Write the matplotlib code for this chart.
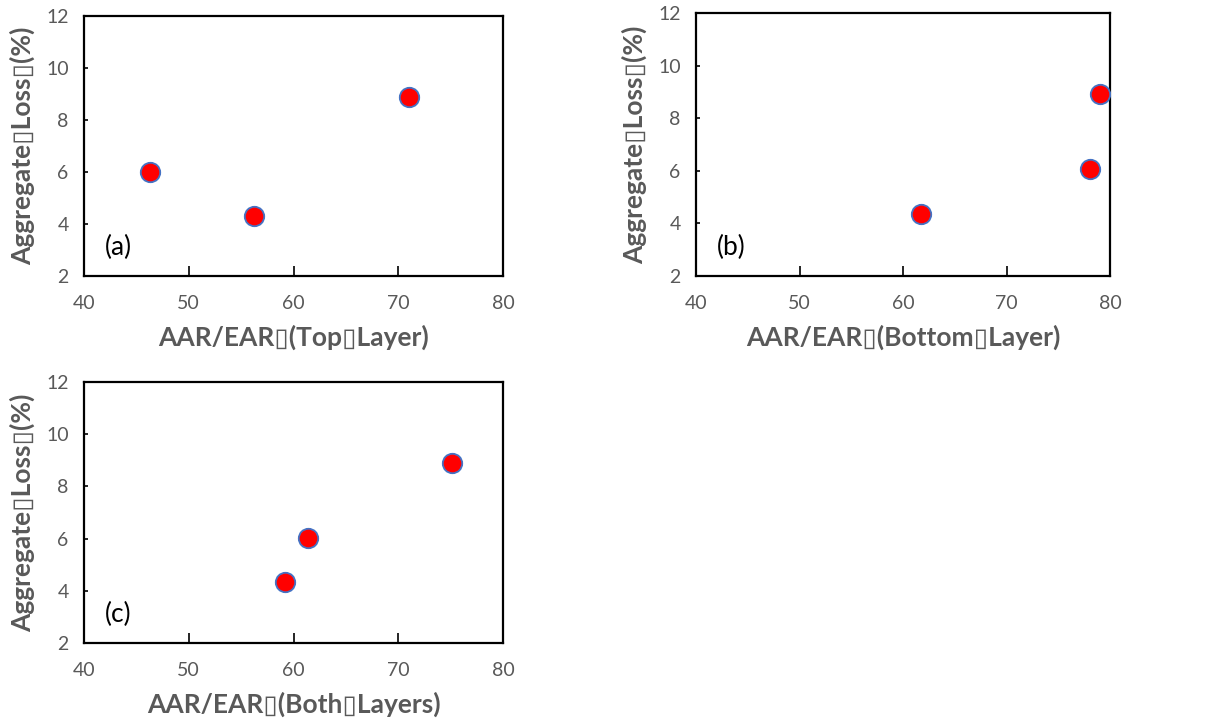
import matplotlib as mpl
import matplotlib.pyplot as plt

mpl.rcParams.update({"font.family": ["Lato", "DejaVu Sans"],
                     "axes.unicode_minus": False})

# AAR/EAR ratio vs aggregate loss, one panel per layer case
top_ratio = [46.3, 56.2, 71.0]
top_loss = [6.0, 4.3, 8.9]

bottom_ratio = [61.7, 78.1, 79.0]
bottom_loss = [4.35, 6.05, 8.92]

both_ratio = [59.2, 61.4, 75.1]
both_loss = [4.35, 6.04, 8.91]

panel_tags = ["(a)", "(b)", "(c)"]
x_labels = ["AAR/EAR\u25af(Top\u25afLayer)",
            "AAR/EAR\u25af(Bottom\u25afLayer)",
            "AAR/EAR\u25af(Both\u25afLayers)"]
y_label = "Aggregate\u25afLoss\u25af(%)"

GRAY = "#595959"


def draw_panel(ax, xs, ys, tag, xlabel):
    ax.plot(xs, ys, linestyle="none", marker="o", markersize=14,
            markerfacecolor="#ff0000", markeredgecolor="#4472c4",
            markeredgewidth=1.3, zorder=3)
    ax.set_xlim(40, 80)
    ax.set_ylim(2, 12)
    ax.set_xticks(range(40, 81, 10))
    ax.set_yticks(range(2, 13, 2))
    for s in ax.spines.values():
        s.set_linewidth(1.6)
        s.set_color("black")
    ax.tick_params(axis="x", direction="in", length=7, width=1.2,
                   labelsize=14, labelcolor=GRAY, pad=14)
    ax.tick_params(axis="y", direction="in", length=3, width=1.2,
                   labelsize=14, labelcolor=GRAY, pad=11)
    ax.set_xlabel(xlabel, fontsize=19, fontweight="bold", color=GRAY,
                  labelpad=9)
    ax.set_ylabel(y_label, fontsize=19, fontweight="bold", color=GRAY,
                  labelpad=8)
    ax.text(0.05, 0.11, tag, transform=ax.transAxes, fontsize=19,
            color="black", ha="left", va="center")


W, H = 1212, 724
fig = plt.figure(figsize=(W / 100, H / 100), dpi=100)

boxes = [(84, 16, 503, 276), (696, 13, 1110, 276), (84, 382, 503, 643)]
data = [(top_ratio, top_loss), (bottom_ratio, bottom_loss),
        (both_ratio, both_loss)]

for (l, t, r, b), (xs, ys), tag, xl in zip(boxes, data, panel_tags, x_labels):
    ax = fig.add_axes([l / W, 1 - b / H, (r - l) / W, (b - t) / H])
    draw_panel(ax, xs, ys, tag, xl)

fig.savefig("out.png", dpi=100)
